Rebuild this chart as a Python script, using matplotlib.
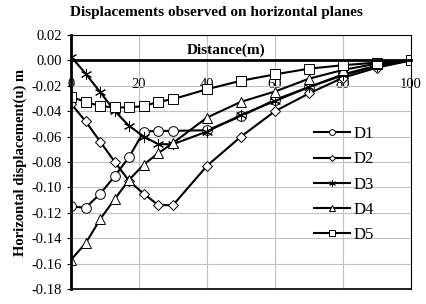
import matplotlib
matplotlib.use('Agg')
import matplotlib.pyplot as plt

# Distance along the plane (m)
distance = [0, 4.3, 8.6, 12.9, 17.1, 21.4, 25.7, 30, 40, 50, 60, 70, 80, 90, 100]

# Horizontal displacement (m) for each series
d1 = [-0.115, -0.116, -0.105, -0.091, -0.076, -0.056, -0.0555, -0.0555, -0.055,
      -0.044, -0.031, -0.021, -0.011, -0.004, 0.0]
d2 = [-0.034, -0.048, -0.064, -0.080, -0.095, -0.105, -0.114, -0.114, -0.083,
      -0.060, -0.040, -0.026, -0.0136, -0.0057, 0.0]
d3 = [0.003, -0.0104, -0.025, -0.040, -0.0516, -0.060, -0.066, -0.066, -0.056,
      -0.043, -0.032, -0.021, -0.0117, -0.0045, 0.0]
d4 = [-0.157, -0.144, -0.125, -0.109, -0.094, -0.082, -0.073, -0.065, -0.045,
      -0.0326, -0.0245, -0.0144, -0.0075, -0.0025, 0.0]
d5 = [-0.0287, -0.0326, -0.036, -0.037, -0.037, -0.036, -0.0326, -0.0305, -0.0227,
      -0.016, -0.011, -0.0065, -0.0038, -0.0017, 0.0]

series_labels = ['D1', 'D2', 'D3', 'D4', 'D5']
markers = ['o', 'D', (6, 2, 0), '^', 's']
marker_sizes = [7, 5, 8, 7, 7]

plt.rcParams['font.family'] = ['Liberation Serif', 'DejaVu Serif']

fig = plt.figure(figsize=(4.27, 3.04), dpi=100)
ax = fig.add_axes([71 / 427, 1 - 289 / 304, 340 / 427, 254 / 304])

for vals, lab, mk, ms in zip([d1, d2, d3, d4, d5], series_labels, markers, marker_sizes):
    ax.plot(distance, vals, color='black', lw=1.5, marker=mk, ms=ms,
            mfc='white', mec='black', mew=0.7, label=lab)

ax.set_xlim(0, 100)
ax.set_ylim(-0.18, 0.02)
ax.set_xticks([0, 20, 40, 60, 80, 100])
ax.set_yticks([0.02 * i for i in range(-9, 2)])
ax.set_yticklabels(['%.2f' % (0.02 * i) for i in range(-9, 2)])
ax.grid(True, color='#c0c0c0', lw=0.8)
ax.set_axisbelow(True)

# x axis sits on the zero line, labels just below it
ax.spines['bottom'].set_position(('data', 0))
ax.spines['bottom'].set_linewidth(2)
ax.spines['left'].set_linewidth(2)
ax.spines['top'].set_linewidth(0.8)
ax.spines['right'].set_linewidth(0.8)
ax.axhline(-0.18, color='black', lw=1.2, clip_on=False, zorder=5)
ax.tick_params(axis='x', length=0, pad=13, labelsize=10.5)
ax.tick_params(axis='y', length=3, labelsize=10.5)

ax.text(0.456, 0.94, 'Distance(m)', transform=ax.transAxes, ha='center',
        va='center', fontsize=11, fontweight='bold')
ax.set_ylabel('Horizontal displacement(u) m', fontsize=10.5, fontweight='bold',
              labelpad=3)
fig.text(0.508, 0.96, 'Displacements observed on horizontal planes',
         ha='center', va='center', fontsize=11, fontweight='bold')

ax.legend(loc='upper left', bbox_to_anchor=(0.67, 0.7), frameon=False,
          fontsize=12, markerscale=0.6, handlelength=2.2, handletextpad=0.2,
          labelspacing=0.55)

fig.savefig('out.png', dpi=100)
